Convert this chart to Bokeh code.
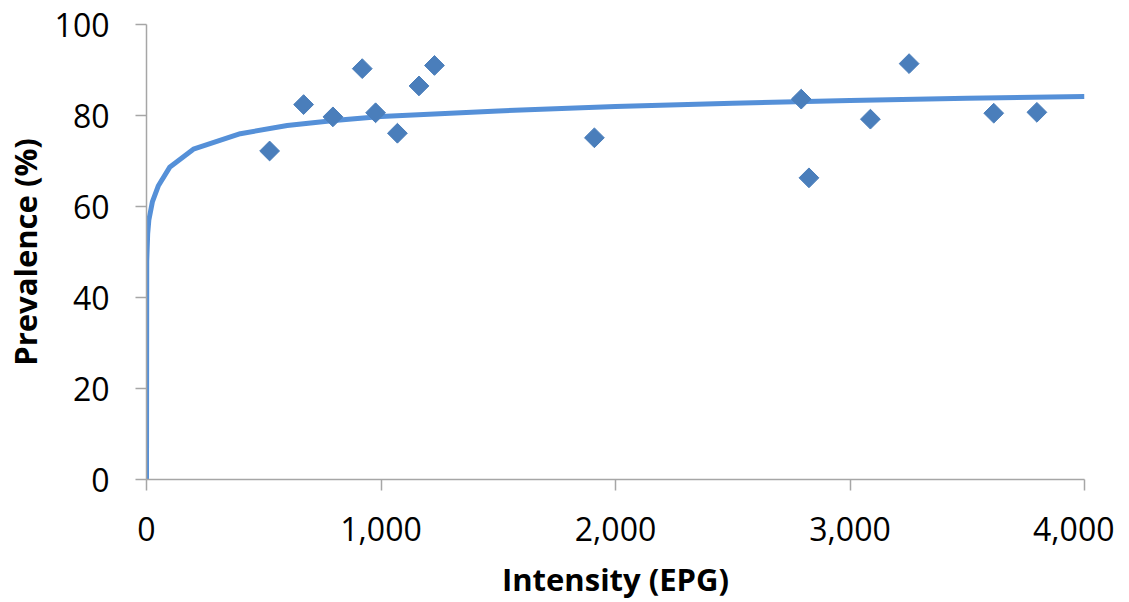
import numpy as np
from bokeh.plotting import figure
from bokeh.models import Range1d, FixedTicker, NumeralTickFormatter
from bokeh.embed import file_html
from bokeh.resources import INLINE

# Observed data (scatter)
intensity = [525, 670, 795, 920, 977, 1070, 1162, 1228, 1910, 2792, 2825, 3087, 3252, 3613, 3797]
prevalence = [72.2, 82.4, 79.7, 90.3, 80.6, 76.1, 86.5, 91.0, 75.1, 83.6, 66.3, 79.2, 91.4, 80.5, 80.7]

# Fitted curve
curve_x = [0, 1, 5, 10, 25, 50, 100, 200, 400, 600, 800, 1000, 1500, 2000, 2500, 3000, 3500, 4000]
curve_y = [0, 48, 54, 57, 61, 64.5, 68.7, 72.6, 76.0, 77.8, 78.9, 79.8, 81.0, 82.0, 82.7, 83.3, 83.8, 84.2]

x_ticks = [0, 1000, 2000, 3000, 4000]
y_ticks = [0, 20, 40, 60, 80, 100]

p = figure(frame_width=938, frame_height=455,
           x_range=Range1d(0, 4000), y_range=Range1d(0, 100),
           output_backend="svg", toolbar_location=None,
           min_border_left=139, min_border_top=24, min_border_right=30, min_border_bottom=100)
p.outline_line_color = None
p.xgrid.visible = False
p.ygrid.visible = False
p.background_fill_color = "white"
p.border_fill_color = "white"

p.line(curve_x, curve_y, line_color="#5590d8", line_width=5)
p.scatter(intensity, prevalence, marker="square", size=14, angle=np.pi / 4,
          fill_color="#4a7ebb", line_color="#4a7ebb")

for ax in (p.xaxis[0], p.yaxis[0]):
    ax.axis_line_color = "#a6a6a6"
    ax.axis_line_width = 1.5
    ax.major_tick_line_color = "#a6a6a6"
    ax.major_tick_line_width = 1.5
    ax.major_tick_in = 0
    ax.major_tick_out = 11
    ax.minor_tick_line_color = None
    ax.major_label_text_font = "Open Sans"
    ax.major_label_text_font_size = "32px"
    ax.major_label_text_color = "black"
    ax.axis_label_text_font = "Open Sans"
    ax.axis_label_text_font_style = "bold"
    ax.axis_label_text_font_size = "31px"
    ax.axis_label_text_color = "black"

p.xaxis.ticker = FixedTicker(ticks=x_ticks)
p.yaxis.ticker = FixedTicker(ticks=y_ticks)
p.xaxis.formatter = NumeralTickFormatter(format="0,0")
p.xaxis.major_label_standoff = 26
p.yaxis.major_label_standoff = 26

p.xaxis.axis_label = "Intensity (EPG)"
p.xaxis.axis_label_standoff = 14
p.yaxis.axis_label = "Prevalence (%)"
p.yaxis.axis_label_standoff = 6

open("out.html", "w").write(file_html(p, INLINE))
